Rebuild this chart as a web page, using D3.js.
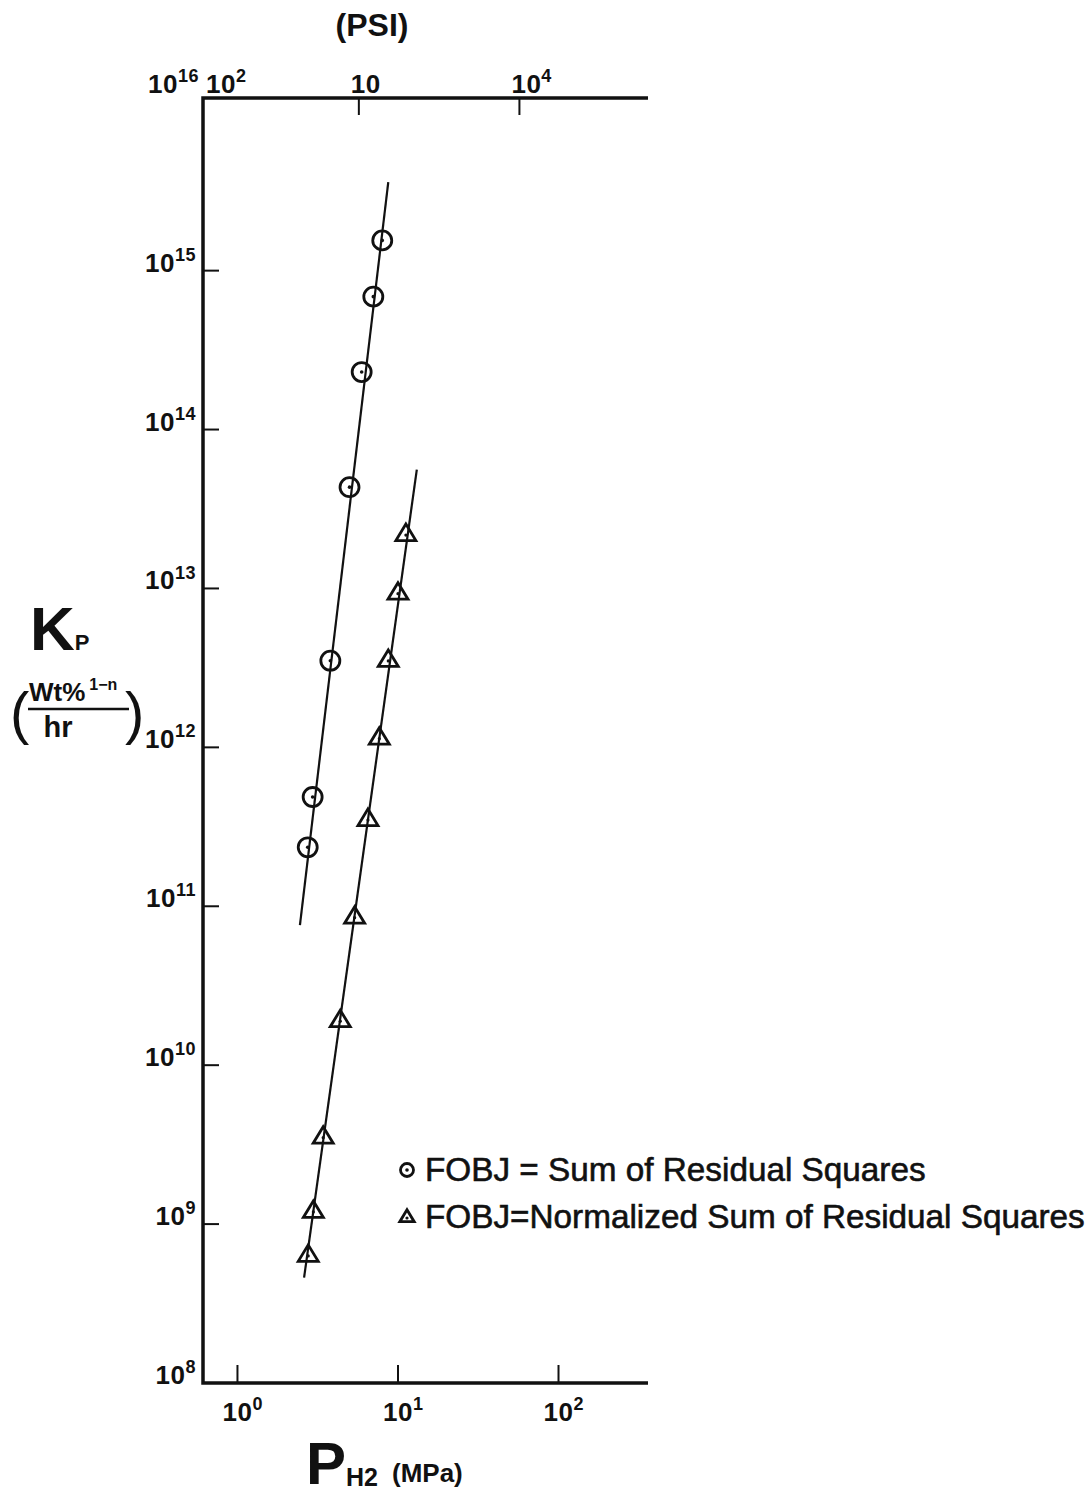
<!DOCTYPE html>
<html>
<head>
<meta charset="utf-8">
<script src="https://cdn.jsdelivr.net/npm/d3@7"></script>
<style>
  html, body { margin: 0; padding: 0; background: #fff; }
  svg text { font-family: "Liberation Sans", Arial, Helvetica, sans-serif; fill: #111; }
</style>
</head>
<body>
<div id="chart"></div>
<script>
// ── data ──
// circles: FOBJ = sum of residual squares
const circleP = [2.74, 2.94, 3.79, 4.99, 5.94, 7.02, 7.98];
const circleK = [2.35e11, 4.87e11, 3.51e12, 4.34e13, 2.3e14, 6.86e14, 1.55e15];
const circleFitP = [2.45, 8.7];
const circleFitK = [7.6e10, 3.6e15];

// triangles: FOBJ = normalized sum of residual squares
const triP = [2.76, 2.97, 3.42, 4.37, 5.37, 6.5, 7.65, 8.7, 10.0, 11.2];
const triK = [6.4e8, 1.21e9, 3.55e9, 1.92e10, 8.6e10, 3.54e11, 1.15e12, 3.55e12, 9.4e12, 2.2e13];
const triFitP = [2.6, 13.1];
const triFitK = [4.6e8, 5.6e13];

// ticks
const yTicks = [1e8, 1e9, 1e10, 1e11, 1e12, 1e13, 1e14, 1e15];
const yExp = ["8", "9", "10", "11", "12", "13", "14", "15"];
const xTicks = [1, 10, 100];
const xExp = ["0", "1", "2"];
const psiTicks = [1e3, 1e4];
const psiLabels = [["10", ""], ["10", "4"]];

const legendLabels = ["FOBJ = Sum of Residual Squares", "FOBJ=Normalized Sum of Residual Squares"];

// ── layout ──
const W = 1091, H = 1496;
const L = 203, R = 648, T = 98, B = 1383;
const FS = 26, SFS = 18; // tick label sizes

const svg = d3.select("#chart").append("svg")
  .attr("width", W).attr("height", H)
  .attr("viewBox", `0 0 ${W} ${H}`);
svg.append("rect").attr("width", W).attr("height", H).attr("fill", "#fff");

const x = d3.scaleLog().domain([0.61, 361]).range([L, R]);
const xPsi = d3.scaleLog().domain([107, 63200]).range([L, R]);
const y = d3.scaleLog().domain([1e8, 1.22e16]).range([B, T]);

// power-of-ten label helper
function powLabel(sel, base, exp, fs, sfs) {
  sel.attr("letter-spacing", 0.5);
  sel.append("tspan").text(base).attr("font-size", fs);
  if (exp) sel.append("tspan").text(exp).attr("font-size", sfs).attr("dy", -fs * 0.42);
}

// ── frame ──
svg.append("path")
  .attr("d", `M${R},${T}H${L}V${B}H${R}`)
  .attr("fill", "none").attr("stroke", "#111")
  .attr("stroke-width", 3.5).attr("stroke-linejoin", "miter");

// left ticks + labels
yTicks.forEach((t, i) => {
  if (i > 0) {
    svg.append("line")
      .attr("x1", L).attr("x2", L + 16)
      .attr("y1", y(t)).attr("y2", y(t))
      .attr("stroke", "#111").attr("stroke-width", 2);
  }
  const tx = svg.append("text")
    .attr("x", 196).attr("y", y(t) + 1)
    .attr("text-anchor", "end").attr("font-weight", "bold");
  powLabel(tx, "10", yExp[i], FS, SFS);
});
// 10^16 at the top corner
const t16 = svg.append("text").attr("x", 199).attr("y", T - 5)
  .attr("text-anchor", "end").attr("font-weight", "bold");
powLabel(t16, "10", "16", FS, SFS);

// bottom ticks + labels
xTicks.forEach((t, i) => {
  svg.append("line")
    .attr("x1", x(t)).attr("x2", x(t))
    .attr("y1", B).attr("y2", B - 18)
    .attr("stroke", "#111").attr("stroke-width", 2);
  const tx = svg.append("text")
    .attr("x", x(t) - 15).attr("y", B + 38)
    .attr("font-weight", "bold");
  powLabel(tx, "10", xExp[i], FS, SFS);
});

// top (psi) ticks + labels
psiTicks.forEach((t, i) => {
  svg.append("line")
    .attr("x1", xPsi(t)).attr("x2", xPsi(t))
    .attr("y1", T).attr("y2", T + 17)
    .attr("stroke", "#111").attr("stroke-width", 2);
  const tx = svg.append("text")
    .attr("x", xPsi(t) - 8).attr("y", T - 5)
    .attr("font-weight", "bold");
  powLabel(tx, psiLabels[i][0], psiLabels[i][1], FS, SFS);
});
const t2 = svg.append("text").attr("x", L + 3).attr("y", T - 5).attr("font-weight", "bold");
powLabel(t2, "10", "2", FS, SFS);

svg.append("text")
  .attr("x", 372).attr("y", 36)
  .attr("text-anchor", "middle").attr("font-weight", "bold").attr("font-size", 32)
  .text("(PSI)");

// ── axis titles ──
const kp = svg.append("text").attr("x", 30).attr("y", 650).attr("font-weight", "bold");
kp.append("tspan").text("K").attr("font-size", 62);
kp.append("tspan").text("P").attr("font-size", 22);

const num = svg.append("text").attr("x", 29).attr("y", 701).attr("font-weight", "bold");
num.append("tspan").text("Wt%").attr("font-size", 26);
num.append("tspan").text("1−n").attr("font-size", 16).attr("dx", 4).attr("dy", -11);
svg.append("line").attr("x1", 28).attr("x2", 129).attr("y1", 709).attr("y2", 709)
  .attr("stroke", "#111").attr("stroke-width", 2.5);
svg.append("text").attr("x", 58).attr("y", 737).attr("text-anchor", "middle")
  .attr("font-weight", "bold").attr("font-size", 29).text("hr");
svg.append("text").attr("x", 10).attr("y", 733).attr("font-size", 58).text("(");
svg.append("text").attr("x", 125).attr("y", 733).attr("font-size", 58).text(")");

const ph = svg.append("text").attr("x", 306).attr("y", 1484).attr("font-weight", "bold");
ph.append("tspan").text("P").attr("font-size", 60);
ph.append("tspan").text("H2").attr("font-size", 25).attr("dy", 2);
ph.append("tspan").text("(MPa)").attr("font-size", 26).attr("dx", 14).attr("dy", -4);

// ── fit lines ──
const line = d3.line().x((d) => x(d[0])).y((d) => y(d[1]));
[[circleFitP, circleFitK], [triFitP, triFitK]].forEach(([ps, ks]) => {
  svg.append("path")
    .attr("d", line(ps.map((p, i) => [p, ks[i]])))
    .attr("fill", "none").attr("stroke", "#111").attr("stroke-width", 2.2);
});

// ── markers ──
const triPath = "M0,-10L10,6.5L-10,6.5Z";
function circleMark(g, cx, cy, r) {
  g.append("circle").attr("cx", cx).attr("cy", cy).attr("r", r)
    .attr("fill", "none").attr("stroke", "#111").attr("stroke-width", 2.8);
  g.append("circle").attr("cx", cx).attr("cy", cy).attr("r", 1.8).attr("fill", "#111");
}
function triMark(g, cx, cy, s) {
  g.append("path").attr("d", triPath)
    .attr("transform", `translate(${cx},${cy}) scale(${s})`)
    .attr("fill", "none").attr("stroke", "#111").attr("stroke-width", 2.8 / s)
    .attr("stroke-linejoin", "miter");
  g.append("circle").attr("cx", cx).attr("cy", cy + 1).attr("r", 1.6).attr("fill", "#111");
}

const gm = svg.append("g");
circleP.forEach((p, i) => circleMark(gm, x(p), y(circleK[i]), 9.5));
triP.forEach((p, i) => triMark(gm, x(p), y(triK[i]), 1));

// ── legend ──
const lg = svg.append("g");
circleMark(lg, 407, 1170, 6.5);
triMark(lg, 407, 1217, 0.72);
legendLabels.forEach((s, i) => {
  lg.append("text")
    .attr("x", 425).attr("y", 1181 + i * 47)
    .attr("font-size", 33.3)
    .attr("stroke", "#111").attr("stroke-width", 0.6)
    .text(s);
});
</script>
</body>
</html>
